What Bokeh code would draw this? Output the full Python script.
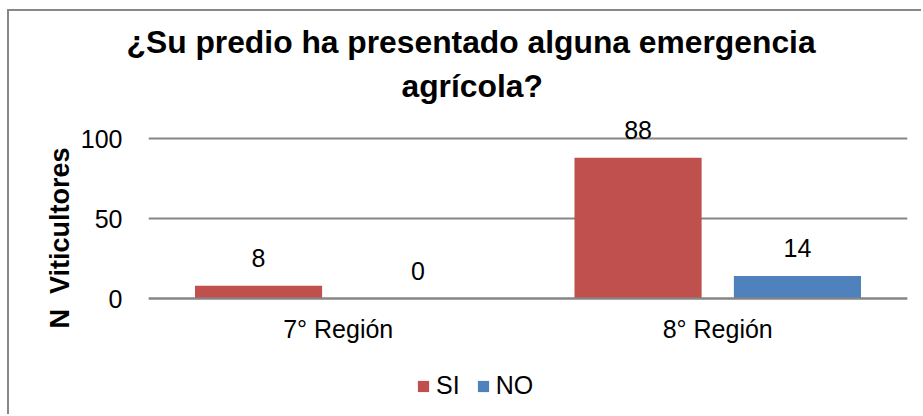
from bokeh.plotting import figure
from bokeh.models import (ColumnDataSource, FactorRange, Range1d, FixedTicker, LabelSet,
                          Legend, LegendItem, Title)
from bokeh.core.properties import value
from bokeh.transform import dodge
from bokeh.embed import file_html
from bokeh.resources import INLINE

regions = ["7° Región", "8° Región"]
si_values = [8, 88]
no_values = [0, 14]
series_names = ["SI", "NO"]
title_lines = ["¿Su predio ha presentado alguna emergencia", "agrícola?"]
y_label = "N  Viticultores"
y_ticks = [0, 50, 100]

RED = "#C0504D"
BLUE = "#4F81BD"
GRID = "#868686"
FONT = "Liberation Sans"

src = ColumnDataSource(dict(region=regions, si=si_values, no=no_values,
                            si_txt=[str(v) for v in si_values],
                            no_txt=[str(v) for v in no_values]))

W, H = 914, 405
p = figure(x_range=FactorRange(*regions, range_padding=0), y_range=Range1d(-73.75, 113.75),
           width=W, height=H, output_backend="svg", toolbar_location=None,
           min_border_left=139, min_border_right=16, min_border_top=105, min_border_bottom=0)
p.styles = {"border-left": "2px solid #888888", "border-top": "2px solid #888888",
            "margin-left": "7px", "margin-top": "9px"}
p.outline_line_color = None
p.background_fill_color = "white"
p.border_fill_color = "white"

r_si = p.vbar(x=dodge("region", -0.21, range=p.x_range), top="si", width=0.335, source=src,
              fill_color=RED, line_color=None)
r_no = p.vbar(x=dodge("region", 0.21, range=p.x_range), top="no", width=0.335, source=src,
              fill_color=BLUE, line_color=None)

for col, top_col, off in (("si_txt", "si", -0.21), ("no_txt", "no", 0.21)):
    p.add_layout(LabelSet(x=dodge("region", off, range=p.x_range), y=top_col, text=col, source=src,
                          text_align="center", text_baseline="alphabetic", y_offset=19,
                          text_font=value(FONT), text_font_size=value("25px"),
                          text_color="black"))

p.xgrid.grid_line_color = None
p.ygrid.grid_line_color = GRID
p.ygrid.grid_line_width = 2
p.yaxis.ticker = FixedTicker(ticks=y_ticks)
p.yaxis.axis_line_color = None
p.yaxis.major_tick_line_color = None
p.yaxis.minor_tick_line_color = None
p.yaxis.major_label_standoff = 20
p.yaxis.major_label_text_font = FONT
p.yaxis.major_label_text_font_size = "25px"
p.yaxis.major_label_text_color = "black"

p.xaxis.fixed_location = 0
p.xaxis.axis_line_color = GRID
p.xaxis.axis_line_width = 2
p.xaxis.major_tick_line_color = None
p.xaxis.minor_tick_line_color = None
p.xaxis.major_label_standoff = 10
p.xaxis.major_label_text_font = FONT
p.xaxis.major_label_text_font_size = "25px"
p.xaxis.major_label_text_color = "black"

# Title: second line closest to the frame, added first
p.add_layout(Title(text=title_lines[1], align="left", offset=253, standoff=25,
                   text_font=FONT, text_font_size="31.8px", text_font_style="bold",
                   text_color="black"), "above")
p.add_layout(Title(text=title_lines[0], align="left", offset=-22, standoff=-12,
                   text_font=FONT, text_font_size="31.8px", text_font_style="bold",
                   text_color="black"), "above")

# Y axis title (second space kept visible as a no-break space)
p.add_layout(Title(text=y_label.replace("  ", " \u00a0"), align="left", offset=88, standoff=5,
                   text_font=FONT, text_font_size="27px", text_font_style="bold",
                   text_color="black"), "left")

legend = Legend(items=[LegendItem(label=series_names[0], renderers=[r_si]),
                       LegendItem(label=series_names[1], renderers=[r_no])],
                orientation="horizontal", location=(268, 16), padding=0, margin=0,
                spacing=16, label_standoff=6, glyph_width=14, glyph_height=14,
                label_text_font=FONT, label_text_font_size="25px", label_text_color="black",
                border_line_color=None, background_fill_alpha=0)
p.add_layout(legend, "center")

open("out.html", "w").write(file_html(p, INLINE))
